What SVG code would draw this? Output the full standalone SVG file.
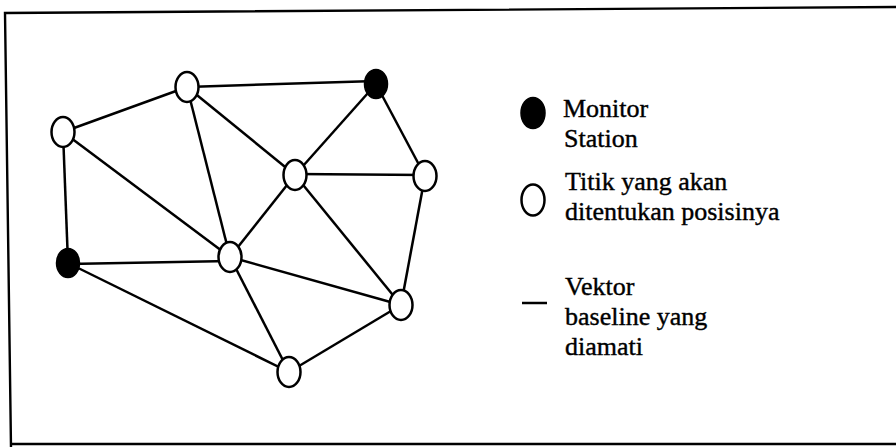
<svg xmlns="http://www.w3.org/2000/svg" width="896" height="447" viewBox="0 0 896 447">
<style>
.frame{fill:none;stroke:#000;stroke-width:2.4}
.edge{stroke:#000;stroke-width:2.5;fill:none}
.open{fill:#fff;stroke:#000;stroke-width:2.5}
.mon{fill:#000;stroke:#000;stroke-width:1.5}
.lbl{font-family:"Liberation Serif","Times New Roman",serif;font-size:26px;fill:#000;stroke:#000;stroke-width:0.4}
</style>
<rect width="896" height="447" fill="#fff"/>
<g id="frame">
<polyline class="frame" points="896,7 5,13 11,447"/>
<line class="frame" x1="10" y1="444" x2="896" y2="444"/>
</g>
<g id="connectors">
<line class="edge" x1="187" y1="87" x2="63" y2="132"/>
<line class="edge" x1="187" y1="87" x2="376" y2="81"/>
<line class="edge" x1="187" y1="87" x2="295" y2="175"/>
<line class="edge" x1="187" y1="87" x2="230" y2="257"/>
<line class="edge" x1="63" y1="132" x2="68" y2="263"/>
<line class="edge" x1="63" y1="132" x2="230" y2="257"/>
<line class="edge" x1="376" y1="84" x2="295" y2="175"/>
<line class="edge" x1="376" y1="84" x2="425" y2="176"/>
<line class="edge" x1="295" y1="174" x2="425" y2="175"/>
<line class="edge" x1="295" y1="175" x2="230" y2="257"/>
<line class="edge" x1="295" y1="175" x2="401" y2="305"/>
<line class="edge" x1="425" y1="176" x2="401" y2="305"/>
<line class="edge" x1="68" y1="264" x2="230" y2="261"/>
<line class="edge" x1="68" y1="263" x2="289" y2="372"/>
<line class="edge" x1="230" y1="257" x2="401" y2="305"/>
<line class="edge" x1="230" y1="257" x2="289" y2="372"/>
<line class="edge" x1="401" y1="305" x2="289" y2="372"/>
</g>
<g id="node-a"><ellipse class="open" cx="187" cy="87" rx="11.5" ry="15"/></g>
<g id="node-b"><ellipse class="open" cx="63" cy="132" rx="11.5" ry="15"/></g>
<g id="node-c"><ellipse class="mon" cx="376" cy="84" rx="11.5" ry="14.5"/></g>
<g id="node-d"><ellipse class="open" cx="295" cy="175" rx="11.5" ry="15"/></g>
<g id="node-e"><ellipse class="open" cx="425" cy="176" rx="11.5" ry="15"/></g>
<g id="node-f"><ellipse class="mon" cx="68" cy="263" rx="11.5" ry="14.5"/></g>
<g id="node-g"><ellipse class="open" cx="230" cy="257" rx="11.5" ry="15"/></g>
<g id="node-h"><ellipse class="open" cx="401" cy="305" rx="11.5" ry="15"/></g>
<g id="node-i"><ellipse class="open" cx="289" cy="372" rx="11.5" ry="15"/></g>
<g id="legend">
<ellipse class="mon" cx="533" cy="113" rx="12" ry="15.5"/>
<ellipse class="open" cx="533" cy="200" rx="11.5" ry="15.5"/>
<line class="edge" x1="522" y1="303" x2="547" y2="303"/>
<text class="lbl" x="563" y="117">Monitor</text>
<text class="lbl" x="564" y="147">Station</text>
<text class="lbl" x="565" y="190">Titik yang akan</text>
<text class="lbl" x="565" y="220">ditentukan posisinya</text>
<text class="lbl" x="565" y="295">Vektor</text>
<text class="lbl" x="565" y="325">baseline yang</text>
<text class="lbl" x="565" y="355">diamati</text>
</g>
</svg>
